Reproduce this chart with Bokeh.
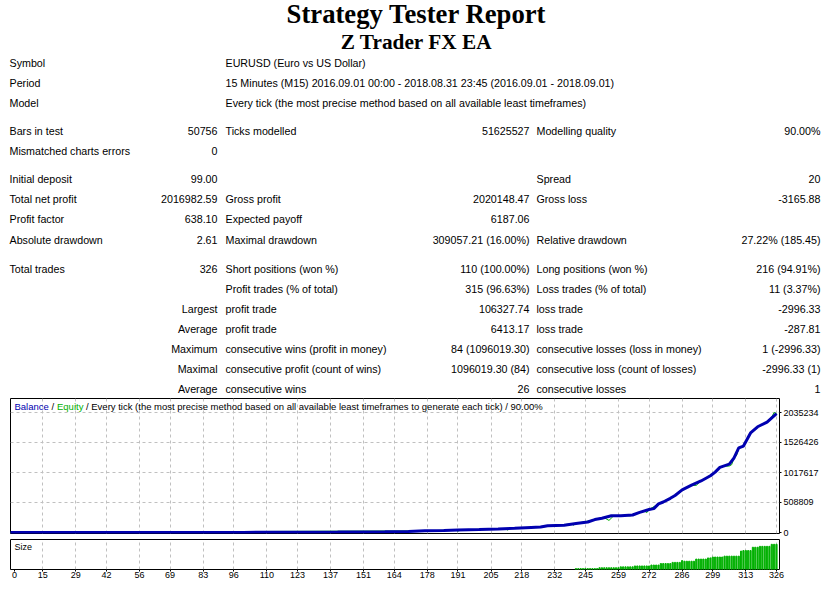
from bokeh.plotting import figure
from bokeh.models import Range1d, FixedTicker, LinearAxis, Label, Grid, NumeralTickFormatter
from bokeh.layouts import column
from bokeh.embed import file_html
from bokeh.resources import INLINE

# ---------------- data ----------------
TITLE = "Strategy Tester Report"
SUBTITLE = "Z Trader FX EA"

info_labels = ["Symbol", "Period", "Model"]
info_values = [
    "EURUSD (Euro vs US Dollar)",
    "15 Minutes (M15) 2016.09.01 00:00 - 2018.08.31 23:45 (2016.09.01 - 2018.09.01)",
    "Every tick (the most precise method based on all available least timeframes)",
]

col1 = ["Bars in test", "Mismatched charts errors", "Initial deposit", "Total net profit",
        "Profit factor", "Absolute drawdown", "Total trades", "", "", "", "", "", ""]
col2 = ["50756", "0", "99.00", "2016982.59", "638.10", "2.61", "326", "",
        "Largest", "Average", "Maximum", "Maximal", "Average"]
col3 = ["Ticks modelled", "", "", "Gross profit", "Expected payoff", "Maximal drawdown",
        "Short positions (won %)", "Profit trades (% of total)", "profit trade", "profit trade",
        "consecutive wins (profit in money)", "consecutive profit (count of wins)", "consecutive wins"]
col4 = ["51625527", "", "", "2020148.47", "6187.06", "309057.21 (16.00%)", "110 (100.00%)",
        "315 (96.63%)", "106327.74", "6413.17", "84 (1096019.30)", "1096019.30 (84)", "26"]
col5 = ["Modelling quality", "", "Spread", "Gross loss", "", "Relative drawdown",
        "Long positions (won %)", "Loss trades (% of total)", "loss trade", "loss trade",
        "consecutive losses (loss in money)", "consecutive loss (count of losses)", "consecutive losses"]
col6 = ["90.00%", "", "20", "-3165.88", "", "27.22% (185.45)", "216 (94.91%)", "11 (3.37%)",
        "-2996.33", "-287.81", "1 (-2996.33)", "-2996.33 (1)", "1"]

chart_caption = ["Balance", "/", "Equity",
                 "/ Every tick (the most precise method based on all available least timeframes to generate each tick) / 90.00%"]
size_caption = "Size"

# balance by trade number
bal_trades = [0, 10, 20, 30, 40, 50, 60, 70, 80, 90, 100, 110, 120, 130, 140, 150, 160, 170,
              177, 185, 191, 200, 208, 215, 222, 226, 229, 236, 241, 246, 249, 252, 256, 260,
              265, 268, 272, 274, 276, 278, 281, 283, 286, 290, 294, 298, 300, 302, 306, 308,
              310, 312, 315, 318, 322, 326]
bal_values = [99, 135, 180, 245, 330, 450, 610, 830, 1120, 1520, 2050, 2780, 3750, 5100, 6900,
              9300, 12600, 17000, 28600, 36000, 44500, 52000, 60400, 72000, 85000, 92000, 114500,
              124000, 151000, 178000, 219000, 241700, 283000, 286000, 297000, 342000, 390000,
              405000, 485000, 517000, 580000, 628000, 723000, 803000, 874000, 962000, 1025000,
              1105000, 1160000, 1264000, 1434000, 1466000, 1689000, 1793000, 1873000, 2017082]

# equity by trade number
eq_trades = [0, 177, 190, 191, 192, 211, 212, 213, 226, 239, 240, 241, 249, 253, 255, 257, 262,
             264, 268, 270, 271, 272, 276, 283, 289, 290, 292, 294, 300, 302, 304, 305, 306, 307,
             308, 309, 310, 312, 315, 318, 322, 324, 325, 326]
eq_values = [99, 28600, 43000, 22000, 45000, 64000, 42000, 66000, 92000, 146000, 125000, 151000,
             219000, 250000, 205000, 283000, 290000, 282000, 342000, 370000, 335000, 390000,
             485000, 628000, 790000, 798000, 800000, 874000, 1025000, 1105000, 1130000, 1125000,
             1128000, 1150000, 1264000, 1300000, 1420000, 1466000, 1689000, 1793000, 1873000,
             1960000, 2035234, 2017082]

# lot size per trade (visible part)
size_trades = list(range(241, 327))
size_values = [1, 1, 1, 1, 1, 1, 1, 1, 1, 1,
               2, 2, 2, 2, 2, 2, 2, 2, 2,
               3, 3, 3, 3, 3, 3,
               4, 4, 4, 4, 4, 4, 4,
               5, 5, 5, 5,
               6.7, 6.7, 6.7, 6.7, 6.7,
               8, 8, 8, 8,
               10,
               9.3, 9.3, 9.3, 9.3, 9.3,
               11.7, 11.7, 11.7, 11.7, 11.7,
               13, 13,
               14, 14, 14, 14, 14,
               15, 15, 15, 15, 15, 15, 15,
               20.7,
               21.3, 21.3, 21.3, 21.3,
               25, 25, 25,
               26, 26, 26, 26, 26,
               28.3, 28.3, 28.3]

x_tick_labels = [0, 15, 29, 42, 56, 69, 83, 96, 110, 123, 137, 151, 164, 178, 191, 205, 218,
                 232, 245, 259, 272, 286, 299, 313, 326]
y_tick_values = [0, 508809, 1017617, 1526426, 2035234]

# ---------------- styles / layout ----------------
FONT = "Liberation Sans"
TABLE_SIZE = "10.7px"
CHART_SIZE = "9px"
CAP_SIZE = "9.5px"
BLUE = "#0000B0"
GREEN = "#00B000"
GRID = "#C0C0C0"
W = 821
FL, FR = 10, 40          # frame borders of the two chart panels (px)
H0 = 396                 # header height

# ---------------- header ----------------
ph = figure(width=W, height=H0, x_range=Range1d(0, W), y_range=Range1d(H0, 0),
            output_backend="svg", toolbar_location=None,
            x_axis_location=None, y_axis_location=None,
            min_border_left=0, min_border_right=0, min_border_top=0, min_border_bottom=0)
ph.frame_align = False
ph.outline_line_color = None
ph.xgrid.visible = False
ph.ygrid.visible = False


def lab(fig, x, y, text, align="left", size=TABLE_SIZE, font=FONT, style="normal",
        color="black", units="data"):
    fig.add_layout(Label(x=x, y=y, x_units=units, y_units=units, text=text,
                         text_align=align, text_baseline="middle", text_font=font,
                         text_font_size=size, text_font_style=style, text_color=color))


lab(ph, 416, 13, TITLE, "center", "26.7px", "Liberation Serif", "bold")
lab(ph, 416, 41.5, SUBTITLE, "center", "21.3px", "Liberation Serif", "bold")

info_y = [62, 82.5, 102.5]
stat_y = [130, 150, 178, 198, 218, 239, 268, 288, 308, 328, 348, 368, 388]

for y, a, b in zip(info_y, info_labels, info_values):
    lab(ph, 9, y, a)
    lab(ph, 225, y, b)

for xpos, align, texts in [(9, "left", col1), (217, "right", col2), (225, "left", col3),
                           (529, "right", col4), (536, "left", col5), (820, "right", col6)]:
    for y, t in zip(stat_y, texts):
        if t:
            lab(ph, xpos, y, t, align)

# ---------------- main chart ----------------
x_left, x_right = 1.35, 327.27
shared_x = Range1d(x_left, x_right)
F1 = 135
val_px = 2035234 / 120.0
pm = figure(width=W, height=2 + F1 + 5, x_range=shared_x,
            y_range=Range1d(-1 * val_px, -1 * val_px + F1 * val_px),
            output_backend="svg", toolbar_location=None,
            x_axis_location=None, y_axis_location=None,
            min_border_left=FL, min_border_right=FR, min_border_top=2, min_border_bottom=5)
pm.xgrid.visible = False
pm.ygrid.visible = False
pm.outline_line_color = "black"
pm.outline_line_width = 1
pm.add_layout(Grid(dimension=0, ticker=FixedTicker(ticks=x_tick_labels[1:]),
                   grid_line_color=GRID, grid_line_dash="3 3"))
pm.add_layout(Grid(dimension=1, ticker=FixedTicker(ticks=y_tick_values[1:]),
                   grid_line_color=GRID, grid_line_dash="3 3"))

ax_r = LinearAxis(ticker=FixedTicker(ticks=y_tick_values),
                  formatter=NumeralTickFormatter(format="0"))
ax_r.axis_line_color = None
ax_r.major_tick_out = 2
ax_r.major_tick_in = 0
ax_r.minor_tick_line_color = None
ax_r.major_tick_line_color = "black"
ax_r.major_label_standoff = 2
ax_r.major_label_text_font = FONT
ax_r.major_label_text_font_size = CHART_SIZE
ax_r.major_label_text_color = "black"
pm.add_layout(ax_r, "right")

pm.line(eq_trades, eq_values, line_color=GREEN, line_width=1)
pm.line(bal_trades, bal_values, line_color=BLUE, line_width=3)

cap_x = [4, 41, 46.5, 75.5]
cap_c = [BLUE, "black", GREEN, "black"]
for t, xx, cc in zip(chart_caption, cap_x, cap_c):
    lab(pm, xx, F1 - 8, t, size=CAP_SIZE, color=cc, units="screen")

# ---------------- size chart ----------------
F2 = 30
ps = figure(width=W, height=1 + F2 + 12, x_range=shared_x, y_range=Range1d(0, 33.7),
            output_backend="svg", toolbar_location=None,
            x_axis_location=None, y_axis_location=None,
            min_border_left=FL, min_border_right=FR, min_border_top=1, min_border_bottom=12)
ps.xgrid.visible = False
ps.ygrid.visible = False
ps.outline_line_color = "black"
ps.outline_line_width = 1
ps.add_layout(Grid(dimension=0, ticker=FixedTicker(ticks=x_tick_labels[1:]),
                   grid_line_color=GRID, grid_line_dash="3 3"))
ps.vbar(x=size_trades, top=size_values, width=0.5, color=GREEN)

zero_pos = 3.0
ax_b = LinearAxis(ticker=FixedTicker(ticks=[zero_pos] + x_tick_labels[1:]),
                  major_label_overrides={zero_pos: str(x_tick_labels[0])})
ax_b.axis_line_color = None
ax_b.major_tick_out = 2
ax_b.major_tick_in = 0
ax_b.minor_tick_line_color = None
ax_b.major_tick_line_color = "black"
ax_b.major_label_standoff = 0
ax_b.major_label_text_font = FONT
ax_b.major_label_text_font_size = CHART_SIZE
ax_b.major_label_text_color = "black"
ps.add_layout(ax_b, "below")

lab(ps, 4, F2 - 7, size_caption, size=CHART_SIZE, units="screen")

layout = column(ph, pm, ps, spacing=0)
open("out.html", "w").write(file_html(layout, INLINE))
